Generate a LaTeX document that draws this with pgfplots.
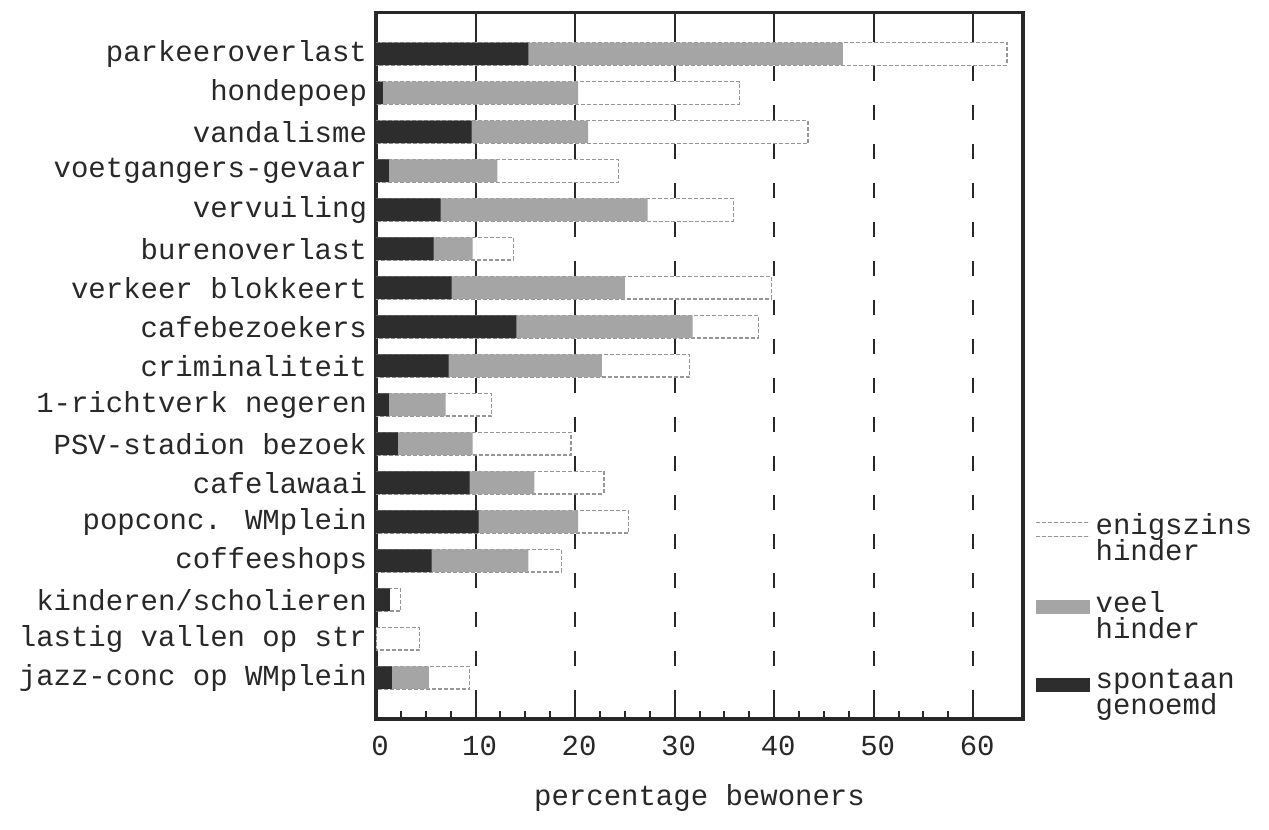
\documentclass[border=0pt]{standalone}
\usepackage{fontspec}
\setmainfont{Liberation Mono}
\usepackage{pgfplots}
\usepackage{pgfplotstable}
\pgfplotsset{compat=1.18}
\definecolor{darkbar}{RGB}{45,45,45}
\definecolor{midbar}{RGB}{165,165,165}
\definecolor{inkc}{RGB}{40,40,40}
\definecolor{edgec}{RGB}{150,150,150}

% cumulative bar ends: spontaan genoemd, + veel hinder, + enigszins hinder
\pgfplotstableread{
idx spont veel enig
0  15.3 46.9 63.4
1  0.7  20.3 36.5
2  9.6  21.3 43.4
3  1.3  12.2 24.4
4  6.5  27.3 35.9
5  5.8  9.7  13.8
6  7.6  25.0 39.7
7  14.1 31.8 38.4
8  7.3  22.7 31.5
9  1.3  7.0  11.6
10 2.2  9.7  19.6
11 9.4  15.9 22.9
12 10.3 20.3 25.4
13 5.6  15.3 18.6
14 1.4  1.4  2.5
15 0    0    4.4
16 1.6  5.3  9.4
}\datatable

\newcommand{\labfont}{\fontsize{14.5}{13}\selectfont\lineskiplimit=-30pt\relax}

\begin{document}
\begin{tikzpicture}
\begin{axis}[
  scale only axis,
  width=323.5pt, height=353.25pt,
  xmin=0, xmax=65,
  ymin=-1.06, ymax=17.06,
  y dir=reverse,
  xtick={0,10,...,60},
  minor x tick num=3,
  xtick pos=bottom,
  xtick align=inside,
  major tick length=7pt,
  minor tick length=4pt,
  every tick/.style={inkc, line width=1pt},
  ytick={0,...,16},
  yticklabels={parkeeroverlast, hondepoep, vandalisme, voetgangers-gevaar, vervuiling, burenoverlast, verkeer blokkeert, cafebezoekers, criminaliteit, 1-richtverk negeren, PSV-stadion bezoek, cafelawaai, popconc. WMplein, coffeeshops, kinderen/scholieren, lastig vallen op str, jazz-conc op WMplein},
  ytick style={draw=none},
  xmajorgrids,
  major x grid style={inkc, line width=1pt, dash pattern=on 7.8pt off 11.7pt, dash phase=12.48pt},
  axis line style={inkc, line width=1.8pt},
  tick label style={font=\labfont, text=inkc},
  /pgf/number format/assume math mode=true,
  xticklabel style={anchor=base, yshift=-18pt, xshift=2pt},
  yticklabel style={xshift=6pt},
  xlabel={percentage bewoners},
  xlabel style={at={(axis description cs:0.5,0)}, anchor=base, yshift=-43pt, font=\labfont, text=inkc},
  legend style={at={(axis description cs:1,0.2916)}, anchor=north west, xshift=6pt,
    draw=none, fill=none, inner sep=0pt, row sep=14pt, column sep=2.5pt,
    nodes={align=left, inner sep=0pt, font=\labfont, text=inkc}},
  legend cell align=left,
  xbar, bar width=0.58, bar shift=0pt,
]
\addplot[fill=white, draw=edgec, line width=0.6pt, dash pattern=on 2pt off 1pt,
  legend image code/.code={\draw[edgec, line width=0.6pt, dash pattern=on 2pt off 1pt] (0pt,1pt) -- (27pt,1pt) (0pt,8pt) -- (27pt,8pt);}]
  table[x=enig, y=idx] {\datatable};
\addlegendentry{enigszins\\hinder}
\addplot[fill=midbar, draw=none,
  legend image code/.code={\fill[midbar] (0pt,1pt) rectangle (27pt,8pt);}]
  table[x=veel, y=idx] {\datatable};
\addlegendentry{veel\\hinder}
\addplot[fill=darkbar, draw=none,
  legend image code/.code={\fill[darkbar] (0pt,1pt) rectangle (27pt,8pt);}]
  table[x=spont, y=idx] {\datatable};
\addlegendentry{spontaan\\genoemd}
\pgfplotsinvokeforeach{10,20,30,40,50,60}{\draw[inkc, line width=1pt] (axis cs:#1,-1.06) -- (axis cs:#1,-0.7);}
\end{axis}
\pgfresetboundingbox
\path[use as bounding box] ([xshift=-188pt,yshift=-55pt]current axis.south west) rectangle ([xshift=123pt,yshift=6.25pt]current axis.north east);
\end{tikzpicture}
\end{document}
